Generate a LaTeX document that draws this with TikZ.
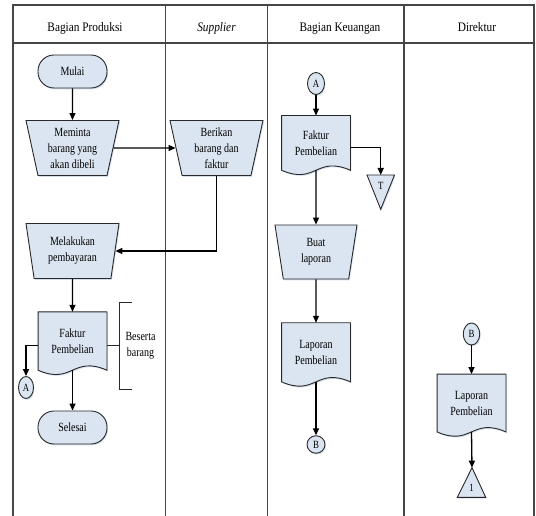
\documentclass[tikz,border=0pt]{standalone}
\usepackage{fontspec}
\setmainfont{Liberation Serif}[FakeStretch=0.8]
\newfontfamily\headfont{Liberation Serif}[FakeStretch=0.87]
\usetikzlibrary{shapes.geometric,arrows.meta,shadows,backgrounds,calc}

\definecolor{shapefill}{RGB}{219,229,241}
\definecolor{shadowblue}{RGB}{175,195,225}
\definecolor{inkline}{RGB}{40,40,40}
\definecolor{framegray}{RGB}{70,70,70}

% outline of a document symbol around a (text-only) frame node
\newcommand\docoutline[1]{%
  \draw[boxline] (#1.north west) -- (#1.north east) -- (#1.south east)
    .. controls ($(#1.south)+(0,-15)$) and ($(#1.south)+(0,15)$) .. (#1.south west) -- cycle;}

\begin{document}
\begin{tikzpicture}[x=1pt,y=-1pt,
  every node/.style={font=\fontsize{12.5}{16}\selectfont, text=black, inner sep=0pt, align=center},
  boxline/.style={draw=inkline, line width=0.9pt, fill=shapefill,
    drop shadow={shadow xshift=1pt, shadow yshift=-1.3pt, fill=shadowblue, opacity=0.55}},
  terminal/.style={boxline, rectangle, rounded corners=16pt, minimum width=69pt, minimum height=33pt},
  manop/.style={boxline, trapezium, trapezium stretches body, shape border rotate=180,
    trapezium left angle=73.5, trapezium right angle=73.5, minimum width=93pt, minimum height=55pt},
  docbox/.style={rectangle, minimum width=68.5pt, minimum height=#1},
  joint/.style={boxline, ellipse, font=\fontsize{11}{13}\selectfont},
  flow/.style={draw=black, line width=1.3pt, -{Triangle[length=7pt,width=6pt]}},
  plain/.style={draw=inkline, line width=0.9pt},
  lane/.style={draw=framegray, line width=1.2pt},
  title/.style={font=\headfont\fontsize{13}{15}\selectfont, anchor=base}
]
\useasboundingbox (0,0) rectangle (536,516);

% swimlane frame
\draw[lane] (13,516) -- (13,5) -- (534,5) -- (534,516);
\draw[lane] (13,43) -- (534,43);
\draw[lane] (165.5,5) -- (165.5,516);
\draw[lane] (267.5,5) -- (267.5,516);
\draw[lane] (404,5) -- (404,516);

% lane titles
\node[title] (h-prod) at (85,31.5) {Bagian Produksi};
\node[title] (h-supp) at (216.5,31.5) {\itshape Supplier};
\node[title] (h-keu)  at (340,31.5) {Bagian Keuangan};
\node[title] (h-dir)  at (477,31.5) {Direktur};

% Bagian Produksi
\node[terminal] (mulai) at (72.5,71.5) {Mulai};
\node[manop] (meminta) at (72.5,148) {Meminta\\barang yang\\akan dibeli};
\node[manop] (melakukan) at (72.5,251) {Melakukan\\pembayaran};
\node[docbox=58pt] (fakA) at (72.5,341) {Faktur\\Pembelian};
\node[joint, minimum width=15pt, minimum height=22pt] (circA1) at (26,387.5) {A};
\node[terminal] (selesai) at (72.5,427.5) {Selesai};
\node (beserta) at (140.5,346) {Beserta\\barang};
\coordinate (brk-mid) at (119,345.7);

% Supplier
\node[manop] (berikan) at (216.5,148) {Berikan\\barang dan\\faktur};

% Bagian Keuangan
\node[joint, minimum width=17pt, minimum height=22pt] (circA3) at (316,83.5) {A};
\node[docbox=54.3pt] (fak3) at (316,142.9) {Faktur\\Pembelian};
\node[manop, minimum width=82pt, minimum height=54pt,
  trapezium left angle=72.8, trapezium right angle=72.8] (buat) at (316,252) {Buat\\laporan};
\node[docbox=58.7pt] (lap3) at (316,352.3) {Laporan\\Pembelian};
\node[joint, minimum width=18pt, minimum height=17.5pt] (circB3) at (316,444.5) {B};
\node (labT) at (380.7,185.5) {\fontsize{11}{13}\selectfont T};
\coordinate (tT) at (380.7,175);

% Direktur
\node[joint, minimum width=16.5pt, minimum height=22pt] (circB4) at (471.5,334) {B};
\node[docbox=57.4pt] (lap4) at (471.5,403) {Laporan\\Pembelian};
\node (lab1) at (471.5,488) {\fontsize{11}{13}\selectfont 1};
\coordinate (t1) at (472,467.7);

% document symbols and storage triangles behind their texts
\begin{scope}[on background layer]
  \docoutline{fakA}
  \docoutline{fak3}
  \docoutline{lap3}
  \docoutline{lap4}
  \draw[boxline] (367,175) -- (394.5,175) -- (380.7,209.3) -- cycle;
  \draw[boxline] (472,467.7) -- (485.7,497.3) -- (457.3,497.3) -- cycle;
\end{scope}

% bracket note
\draw[plain] (132,302) -- (119,302) -- (119,389) -- (132,389);

% flow connectors
\draw[flow] (mulai) -- (meminta);
\draw[flow] (meminta) -- (berikan);
\draw[flow] (berikan) |- (melakukan);
\draw[flow] (melakukan) -- (fakA);
\draw[flow] ([yshift=-4.7pt]fakA.west) -| (circA1);
\draw[flow] (fakA.south) -- (selesai);
\draw[plain] ([yshift=-4.7pt]fakA.east) -- (brk-mid);

\draw[flow] (circA3) -- (fak3);
\draw[flow] ([yshift=-4.8pt]fak3.east) -| (tT);
\draw[flow] (fak3.south) -- (buat);
\draw[flow] (buat) -- (lap3);
\draw[flow] (lap3.south) -- (circB3);

\draw[flow] (circB4) -- (lap4);
\draw[flow] (lap4.south) -- (t1);
\end{tikzpicture}
\end{document}
